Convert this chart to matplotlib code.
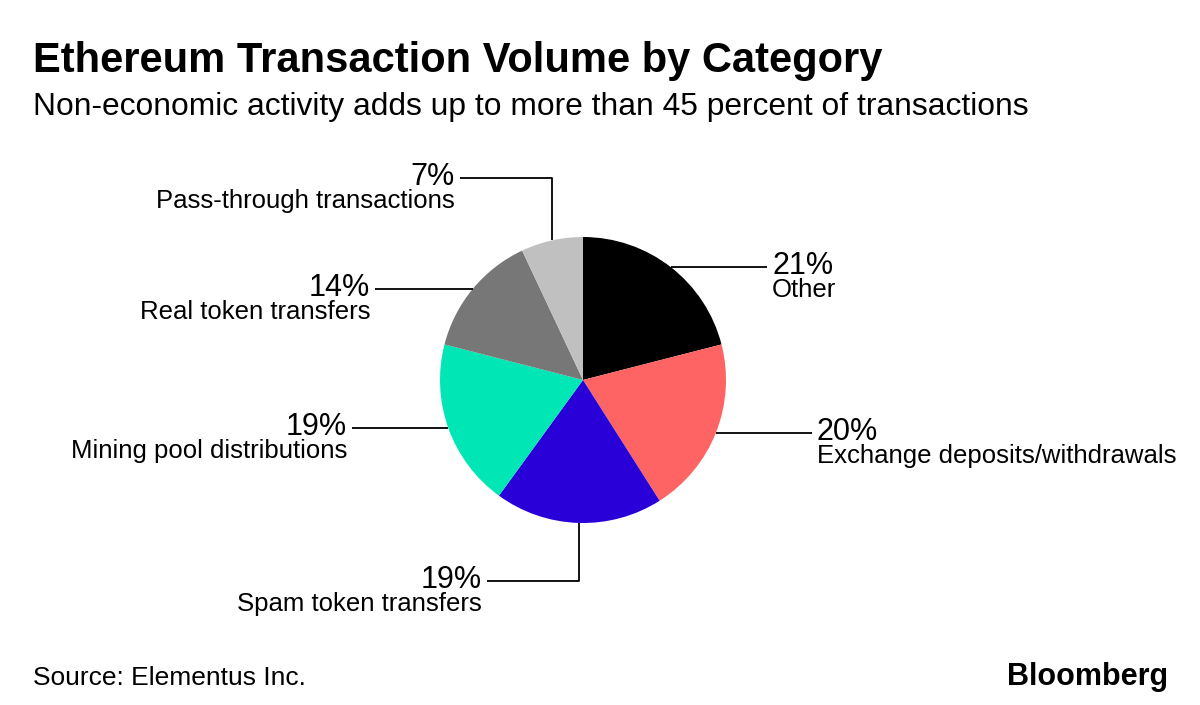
import numpy as np
import matplotlib.pyplot as plt

# data
categories = ["Other", "Exchange deposits/withdrawals", "Spam token transfers",
              "Mining pool distributions", "Real token transfers", "Pass-through transactions"]
shares = [21, 20, 19, 19, 14, 7]
colors = ["#000000", "#ff6464", "#2a00d8", "#00e6b4", "#777777", "#c0c0c0"]

plt.rcParams['font.family'] = ['Liberation Sans', 'DejaVu Sans']

W, H = 1200, 705
fig = plt.figure(figsize=(12, 7.05), dpi=100)
ax = fig.add_axes([0, 0, 1, 1])

#pie in pixel coordinates (y flipped)
cx, cy, r = 583, H - 380, 143
wedges, _ = ax.pie(shares, colors=colors, startangle=90, counterclock=False,
                   center=(cx, cy), radius=r, frame=True,
                   wedgeprops=dict(linewidth=0))
ax.set_xlim(0, W)
ax.set_ylim(0, H)
ax.axis('off')

# leader line ends: (x end, elbow y in px or None)
leader_ends = [(767, None), (812, None), (487, 581), (352, None), (375, None), (460, 178)]

for w, cat, val, (xe, elbow) in zip(wedges, categories, shares, leader_ends):
    mid = np.deg2rad((w.theta1 + w.theta2) / 2)
    px = cx + r * np.cos(mid)
    py = cy + r * np.sin(mid)
    if elbow is None:
        ly = py
        xs, ys = [px, xe], [py, py]
    else:
        ly = H - elbow
        xs, ys = [px, px, xe], [py, ly, ly]
    ax.plot(xs, ys, color='black', lw=1.3, solid_capstyle='butt')
    right = xe > cx
    tx = xe + 5 if right else xe - 5
    ha = 'left' if right else 'right'
    ax.text(tx, ly - 7, f"{val}%", fontsize=22, ha=ha, va='baseline')
    ax.text(tx, ly - 30, cat, fontsize=18.5, ha=ha, va='baseline')

fig.text(33 / W, 1 - 72 / H, "Ethereum Transaction Volume by Category",
         fontsize=30, fontweight='bold', ha='left', va='baseline')
fig.text(33 / W, 1 - 115 / H, "Non-economic activity adds up to more than 45 percent of transactions",
         fontsize=22.9, ha='left', va='baseline')
fig.text(33 / W, 1 - 685 / H, "Source: Elementus Inc.", fontsize=19, ha='left', va='baseline')
fig.text(1168 / W, 1 - 685 / H, "Bloomberg", fontsize=22, fontweight='bold',
         ha='right', va='baseline')

fig.savefig("out.png", dpi=100, facecolor='white')
